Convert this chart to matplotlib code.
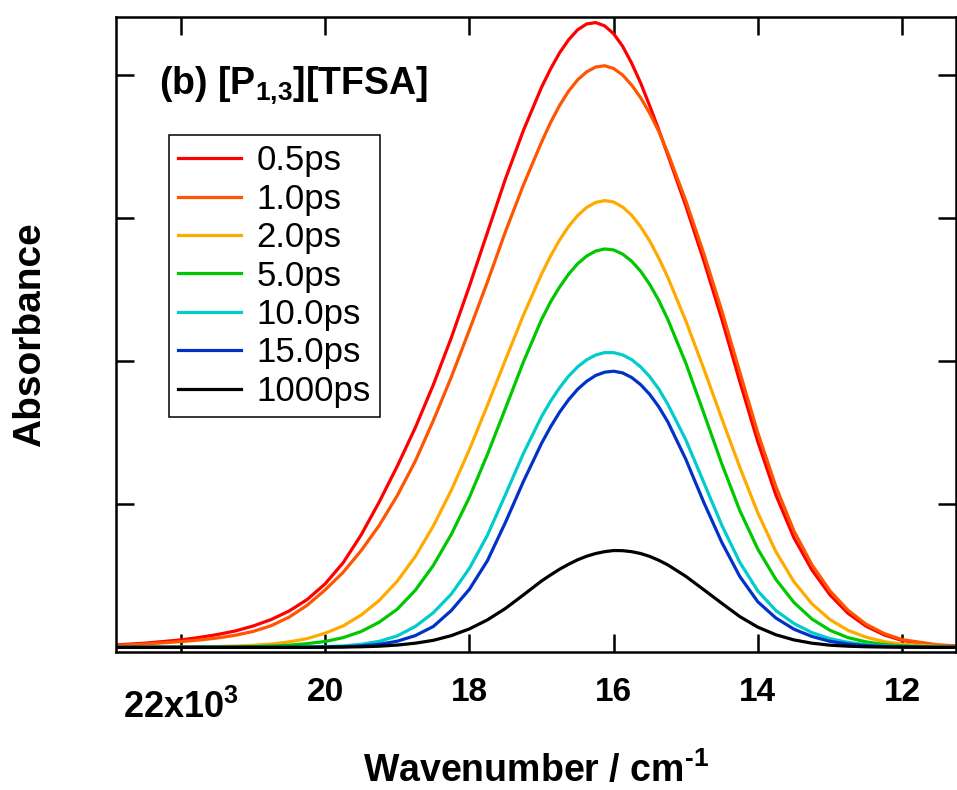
import matplotlib
matplotlib.use("Agg")
import matplotlib.pyplot as plt
from matplotlib.transforms import blended_transform_factory

plt.rcParams["font.family"] = ["Liberation Sans", "DejaVu Sans"]
plt.rcParams["mathtext.fontset"] = "custom"
plt.rcParams["mathtext.rm"] = "Liberation Sans"
plt.rcParams["mathtext.bf"] = "Liberation Sans:bold"

# ── data (wavenumber in cm^-1, absorbance in arb. units) ──
wavenumber = [23000, 22500, 22000, 21750, 21500, 21250, 21000, 20750, 20500, 20250,
              20000, 19750, 19500, 19250, 19000, 18750, 18500, 18250, 18000, 17750,
              17500, 17250, 17000, 16875, 16750, 16625, 16500, 16375, 16250, 16125,
              16000, 15875, 15750, 15625, 15500, 15375, 15250, 15000, 14750, 14500,
              14250, 14000, 13750, 13500, 13250, 13000, 12750, 12500, 12250, 12000,
              11500, 11000]

abs_0_5ps = [0.0015, 0.003, 0.0053, 0.007, 0.009, 0.0115, 0.015, 0.0195, 0.0255, 0.0335,
             0.0445, 0.0593, 0.0788, 0.1018, 0.1268, 0.1537, 0.1837, 0.2167, 0.2527, 0.2902,
             0.3277, 0.3617, 0.3917, 0.4045, 0.4158, 0.4249, 0.4319, 0.436, 0.437, 0.4347,
             0.4292, 0.4204, 0.4086, 0.3947, 0.3788, 0.3621, 0.3446, 0.309, 0.2705, 0.2296,
             0.1859, 0.1438, 0.1066, 0.0767, 0.0542, 0.0368, 0.0239, 0.0149, 0.0088, 0.0049,
             0.0015, 0.0005]

abs_1_0ps = [0.0012, 0.0024, 0.0041, 0.0052, 0.0066, 0.0085, 0.0112, 0.0152, 0.0212, 0.0295,
             0.0403, 0.0526, 0.0678, 0.0854, 0.1062, 0.1303, 0.1587, 0.1892, 0.222, 0.2556,
             0.2908, 0.3235, 0.3533, 0.367, 0.379, 0.389, 0.3969, 0.4025, 0.4059, 0.4068,
             0.4049, 0.4003, 0.3933, 0.3844, 0.3736, 0.361, 0.346, 0.3125, 0.2755, 0.2355,
             0.1925, 0.150, 0.1125, 0.0815, 0.0578, 0.0396, 0.026, 0.0163, 0.0098, 0.0055,
             0.0018, 0.0006]

abs_2_0ps = [0.0001, 0.0002, 0.0004, 0.0005, 0.0007, 0.001, 0.0015, 0.0024, 0.0039, 0.0062,
             0.0100, 0.0151, 0.0227, 0.0329, 0.0464, 0.0636, 0.085, 0.110, 0.1384, 0.1694,
             0.2012, 0.2325, 0.2611, 0.2737, 0.2849, 0.2944, 0.302, 0.3077, 0.3112, 0.3125,
             0.3115, 0.308, 0.3023, 0.2942, 0.2843, 0.2724, 0.259, 0.2285, 0.195, 0.160,
             0.126, 0.094, 0.067, 0.046, 0.0305, 0.0195, 0.012, 0.0072, 0.0041, 0.0023,
             0.0007, 0.0002]

abs_5_0ps = [0.0001, 0.0001, 0.0002, 0.0002, 0.0003, 0.0004, 0.0006, 0.001, 0.0016, 0.0027,
             0.0042, 0.0069, 0.0112, 0.0177, 0.0268, 0.040, 0.0574, 0.0792, 0.105, 0.135,
             0.1672, 0.1998, 0.2293, 0.2416, 0.252, 0.261, 0.2683, 0.2737, 0.2772, 0.2787,
             0.278, 0.2751, 0.2701, 0.2631, 0.2539, 0.2428, 0.2296, 0.199, 0.1639, 0.1284,
             0.0957, 0.0687, 0.0476, 0.0315, 0.0199, 0.012, 0.0069, 0.0039, 0.0021, 0.0011,
             0.0003, 0.0001]

abs_10ps = [0.0001, 0.0001, 0.0001, 0.0001, 0.0001, 0.0001, 0.0001, 0.0001, 0.0002, 0.0003,
            0.0006, 0.0011, 0.0022, 0.0043, 0.0081, 0.0147, 0.0243, 0.0374, 0.0553, 0.0785,
            0.1069, 0.1358, 0.1614, 0.1722, 0.1816, 0.1897, 0.1962, 0.2011, 0.2045, 0.2062,
            0.2062, 0.2046, 0.2013, 0.1962, 0.1894, 0.1808, 0.1702, 0.1453, 0.1154, 0.0855,
            0.0595, 0.0395, 0.0258, 0.0168, 0.0104, 0.0062, 0.0036, 0.002, 0.0011, 0.0006,
            0.0002, 0.0001]

abs_15ps = [0.0001, 0.0001, 0.0001, 0.0001, 0.0001, 0.0001, 0.0001, 0.0001, 0.0001, 0.0002,
            0.0003, 0.0005, 0.0011, 0.0022, 0.0044, 0.0083, 0.0147, 0.0259, 0.0407, 0.0607,
            0.0875, 0.1162, 0.1427, 0.1542, 0.1645, 0.1732, 0.1805, 0.1861, 0.1902, 0.1925,
            0.1932, 0.192, 0.1888, 0.1838, 0.177, 0.1684, 0.1579, 0.1317, 0.1015, 0.0735,
            0.0496, 0.0319, 0.0206, 0.0128, 0.0077, 0.0043, 0.0024, 0.0013, 0.0007, 0.0004,
            0.0001, 0.0001]

abs_1000ps = [0.0001, 0.0001, 0.0001, 0.0001, 0.0001, 0.0001, 0.0001, 0.0001, 0.0001, 0.0001,
              0.0002, 0.0003, 0.0005, 0.0009, 0.0017, 0.003, 0.005, 0.0083, 0.013, 0.0193,
              0.0273, 0.0368, 0.0465, 0.0507, 0.0547, 0.0582, 0.0613, 0.0638, 0.0657, 0.067,
              0.0678, 0.0677, 0.067, 0.0657, 0.0637, 0.061, 0.0578, 0.0498, 0.0404, 0.0309,
              0.0216, 0.0142, 0.0089, 0.0053, 0.003, 0.0016, 0.0009, 0.0005, 0.0003, 0.0002,
              0.0001, 0.0001]

series = [abs_0_5ps, abs_1_0ps, abs_2_0ps, abs_5_0ps, abs_10ps, abs_15ps, abs_1000ps]
labels = ["0.5ps", "1.0ps", "2.0ps", "5.0ps", "10.0ps", "15.0ps", "1000ps"]
colors = ["#ff0000", "#ff5500", "#ffaa00", "#00c800", "#00cccc", "#0032c8", "#000000"]

x_ticks = [22000, 20000, 18000, 16000, 14000, 12000]
x_tick_labels = ["", "20", "18", "16", "14", "12"]
y_ticks = [0.1, 0.2, 0.3, 0.4]

fig = plt.figure(figsize=(9.57, 7.9), dpi=100)
ax = fig.add_axes([0.1207, 0.1747, 0.8783, 0.8038])

for y, lab, c in zip(series, labels, colors):
    ax.plot(wavenumber, y, color=c, lw=2.3, label=lab, solid_joinstyle="round")

ax.set_xlim(22907, 11252)
ax.set_ylim(-0.00315, 0.4409)
ax.set_xticks(x_ticks)
ax.set_xticklabels(x_tick_labels, fontsize=24, fontweight="bold")
ax.set_yticks(y_ticks)
ax.set_yticklabels([])
ax.tick_params(direction="in", length=13, width=1.8, top=True, right=True, pad=18)
for s in ax.spines.values():
    s.set_linewidth(1.8)

# exponent label under the first tick
trans = blended_transform_factory(ax.transData, ax.transAxes)
ax.text(22000, -0.104, r"22x10$^{\mathbf{3}}$", transform=trans, fontsize=26,
        fontweight="bold", ha="center", va="baseline")

ax.text(0.0518, 0.877, r"(b) [P$_{\mathbf{1{,}3}}$][TFSA]", transform=ax.transAxes,
        fontsize=27, fontweight="bold", va="baseline")

ax.text(0.5, -0.2047, "Wavenumber / cm$^{\\mathbf{\u20101}}$", transform=ax.transAxes,
        fontsize=27, fontweight="bold", ha="center", va="baseline")
ax.text(-0.1017, 0.5, "Absorbance", transform=ax.transAxes, rotation=90,
        fontsize=28, fontweight="bold", ha="center", va="center")

leg = ax.legend(loc="upper left", bbox_to_anchor=(0.0637, 0.814), borderaxespad=0,
                frameon=True, fancybox=False, edgecolor="black", framealpha=1,
                prop={"size": 25}, handlelength=1.79, handletextpad=0.46,
                labelspacing=0.155, borderpad=0.27)
leg.get_frame().set_linewidth(1.1)

fig.savefig("out.png", dpi=100)
